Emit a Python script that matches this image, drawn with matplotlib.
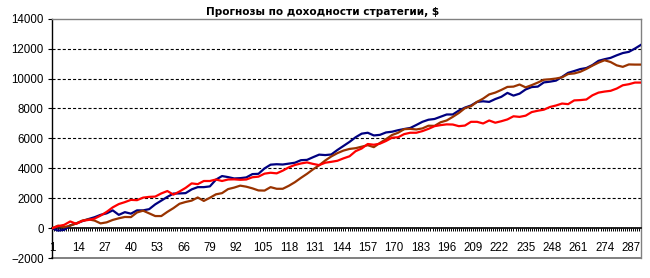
from matplotlib import pyplot as plt
from matplotlib.ticker import MultipleLocator, FixedLocator

plt.rcParams['font.family'] = ['Liberation Sans', 'DejaVu Sans']
plt.rcParams['lines.scale_dashes'] = False

# дни (каждый третий)
days = list(range(1, 293, 3))

navy = [0, -150, -100, 200, 330, 480, 620, 740, 900, 1000,
        1200, 900, 1080, 980, 1200, 1200, 1280, 1600, 1850, 2100,
        2320, 2330, 2350, 2600, 2750, 2750, 2800, 3250, 3490, 3420,
        3330, 3350, 3400, 3620, 3640, 4000, 4250, 4280, 4260, 4320,
        4380, 4550, 4570, 4750, 4920, 4890, 4930, 5230, 5500, 5770,
        6080, 6320, 6380, 6200, 6240, 6400, 6450, 6550, 6630, 6700,
        6900, 7110, 7250, 7300, 7450, 7600, 7600, 7860, 8060, 8200,
        8440, 8480, 8440, 8630, 8780, 9040, 8860, 8990, 9270, 9430,
        9460, 9740, 9790, 9860, 10110, 10380, 10500, 10630, 10700, 10900,
        11180, 11290, 11380, 11550, 11700, 11780, 12000, 12250]

brown = [0, 180, 80, 180, 330, 520, 600, 520, 330, 400,
         560, 670, 760, 750, 1060, 1180, 1000, 820, 820, 1100,
         1350, 1640, 1760, 1850, 2060, 1830, 2040, 2270, 2350, 2620,
         2720, 2850, 2780, 2670, 2530, 2520, 2750, 2640, 2640, 2840,
         3080, 3370, 3640, 3940, 4210, 4530, 4800, 5020, 5190, 5300,
         5350, 5450, 5550, 5420, 5700, 5950, 6230, 6380, 6620, 6640,
         6600, 6670, 6850, 6840, 7080, 7200, 7440, 7700, 8020, 8150,
         8440, 8660, 8940, 9060, 9240, 9440, 9460, 9600, 9410, 9560,
         9730, 9920, 9950, 10000, 10080, 10300, 10340, 10450, 10640, 10860,
         11060, 11220, 11100, 10880, 10780, 10940, 10930, 10930]

red = [0, 150, 230, 460, 300, 500, 560, 650, 850, 1100,
       1400, 1620, 1750, 1900, 1880, 2050, 2100, 2120, 2330, 2490,
       2250, 2460, 2700, 3000, 2950, 3160, 3160, 3260, 3160, 3260,
       3270, 3240, 3260, 3410, 3450, 3650, 3710, 3670, 3850, 4070,
       4230, 4330, 4400, 4300, 4220, 4380, 4440, 4510, 4670, 4810,
       5150, 5330, 5630, 5580, 5650, 5830, 6050, 6080, 6290, 6380,
       6380, 6490, 6640, 6820, 6890, 6940, 6930, 6820, 6860, 7110,
       7110, 7000, 7200, 7050, 7150, 7270, 7480, 7440, 7520, 7760,
       7850, 7920, 8100, 8200, 8330, 8290, 8540, 8560, 8600, 8880,
       9060, 9130, 9180, 9330, 9550, 9620, 9730, 9730]

x_labels = list(range(1, 293, 13))
n_days = 292

fig = plt.figure(figsize=(6.5, 2.78), dpi=100)
ax = fig.add_axes([52 / 650, 19.7 / 278, 589 / 650, 239.7 / 278])

for y in range(2000, 14000, 2000):
    ax.axhline(y, color='black', lw=0.8, dashes=(2.2, 1.5), zorder=1)

ax.plot(days, navy, color='#000080', lw=1.6, zorder=3)
ax.plot(days, brown, color='#993300', lw=1.6, zorder=3)
ax.plot(days, red, color='#ff0000', lw=1.6, zorder=3)

ax.set_xlim(1, n_days)
ax.set_ylim(-2000, 14000)
ax.yaxis.set_major_locator(MultipleLocator(2000))
ax.xaxis.set_major_locator(FixedLocator(x_labels))
ax.xaxis.set_minor_locator(FixedLocator(range(1, n_days + 1)))
ax.set_xticklabels([str(v) for v in x_labels])

# ось X на нуле, рамка серая
ax.spines['bottom'].set_position(('data', 0))
ax.spines['bottom'].set_color('black')
ax.spines['bottom'].set_linewidth(1.2)
ax.spines['left'].set_color('black')
ax.spines['left'].set_linewidth(1.0)
for s in ['top', 'right']:
    ax.spines[s].set_color('#808080')
    ax.spines[s].set_linewidth(1.0)
ax.axhline(-2000, color='#808080', lw=1.4, clip_on=False, zorder=0)

ax.tick_params(axis='x', which='both', direction='out', length=2.5, width=0.7,
               pad=7, labelsize=8.3, color='black')
ax.tick_params(axis='y', direction='out', length=3, width=0.8, pad=3,
               labelsize=8.3)

fig.text(0.497, 0.957, 'Прогнозы по доходности стратегии, $', ha='center',
         va='center', fontsize=7.6, fontweight='bold', family='DejaVu Sans')

fig.savefig('out.png', dpi=100)
